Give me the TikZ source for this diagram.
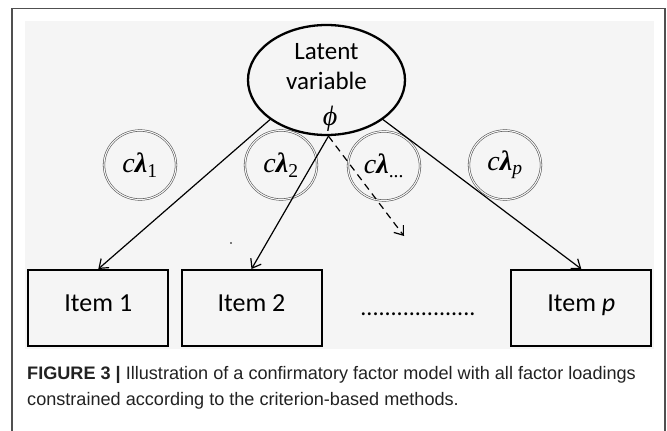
\documentclass[tikz,border=0pt]{standalone}
\usepackage{fontspec}
\setmainfont{Liberation Sans}
\newfontfamily\calib{Carlito}
\newfontfamily\tms{Liberation Serif}
\usetikzlibrary{shapes.geometric,arrows.meta}
\definecolor{bgscan}{HTML}{F5F5F5}
\definecolor{framecol}{HTML}{505050}
\definecolor{capcol}{HTML}{222222}
\tikzset{
  latent/.style={ellipse, draw, line width=2.3pt, minimum width=157pt, minimum height=110pt, inner sep=0pt},
  lvlabel/.style={align=center, font=\calib\fontsize{25}{30}\selectfont, inner sep=0pt},
  phistyle/.style={font=\tms\itshape\fontsize{28}{28}\selectfont, inner sep=0pt},
  loading/.style={ellipse, draw=black!70, line width=0.55pt, double=bgscan, double distance=1.1pt,
    minimum width=72pt, minimum height=69pt, inner sep=0pt, font=\tms\fontsize{28}{28}\selectfont},
  itembox/.style={draw, line width=2pt, minimum width=140pt, minimum height=76pt, inner sep=0pt,
    text height=0.9em, text depth=0.15em, font=\calib\fontsize{26}{26}\selectfont},
  conn/.style={-{Straight Barb[length=8pt,width=12pt,line width=1.2pt]}, line width=1.2pt},
  dashconn/.style={conn, dash pattern=on 7pt off 5pt},
  captext/.style={anchor=base west, inner sep=0pt, text=capcol, font=\fontsize{18.1}{18.1}\selectfont}
}
\newcommand{\cl}[1]{\textit{c}\textbf{\textit{λ}}\textsubscript{#1}}
\begin{document}
\begin{tikzpicture}[x=1pt,y=-1pt]
\useasboundingbox (0,0) rectangle (667,431);
\clip (0,0) rectangle (667,431);
\fill[white] (0,0) rectangle (667,431);
\draw[framecol, line width=1.3pt] (12,445) -- (12,8.5) -- (665,8.5) -- (665,445);
\fill[bgscan] (25,21) rectangle (654,349);

\node[latent] (lv) at (326.5,80) {};
\node[lvlabel] (lvtext) at (326.5,67) {Latent\\variable};
\node[phistyle] (phi) at (330,119) {ϕ};

\node[loading] (l1) at (140,165) {\cl{1}};
\node[loading] (l2) at (281,165) {\cl{2}};
\node[loading] (l3) at (384,166) {\cl{...}};
\node[loading] (lp) at (505,165) {\cl{\textit{p}}};

\node[itembox] (item1) at (98.3,308) {Item 1};
\node[itembox] (item2) at (251.5,308) {Item 2};
\node[itembox] (itemp) at (581.3,308) {Item \textit{p}};
\node[font=\calib\fontsize{24}{24}\selectfont, inner sep=0pt] (dots) at (418,314) {...................};

\coordinate (dashend) at (404,236);
\fill (231,243) circle (0.9pt);

\draw[conn] (lv.215) -- (item1.north);
\draw[conn] (lv.272) -- (item2.north);
\draw[dashconn] (lv.272) -- (dashend);
\draw[conn] (lv.325) -- (itemp.north);

\node[captext] (cap1) at (27,379) {\textbf{FIGURE 3 |} Illustration of a confirmatory factor model with all factor loadings};
\node[captext] (cap2) at (27,405) {constrained according to the criterion-based methods.};
\end{tikzpicture}
\end{document}
